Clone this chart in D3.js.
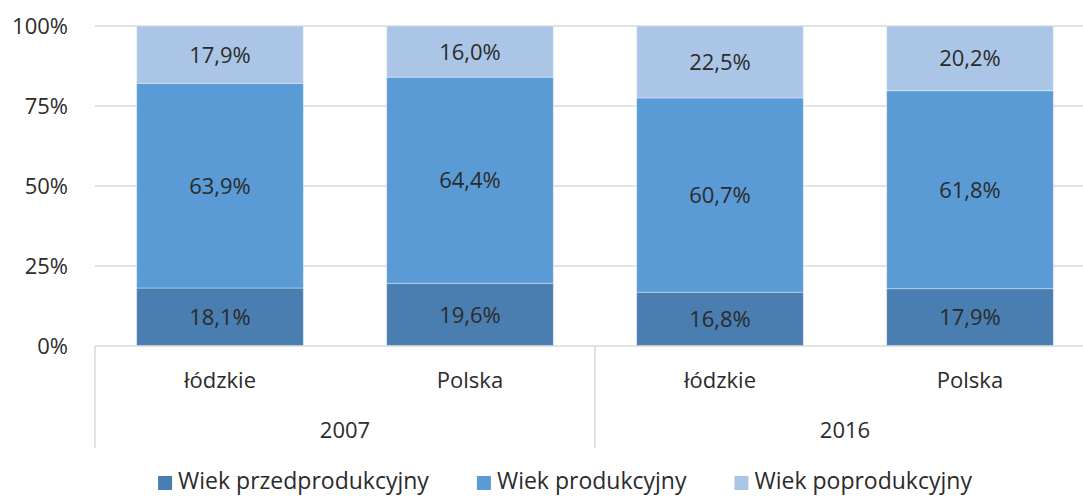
<!DOCTYPE html>
<html lang="pl">
<head>
<meta charset="utf-8">
<script src="https://d3js.org/d3.v7.min.js"></script>
<style>
  body { margin: 0; background: #fff; }
  text { font-family: "Open Sans", sans-serif; fill: #2b2b2b; }
</style>
</head>
<body>
<script>
  // data
  const regions = ["łódzkie", "Polska", "łódzkie", "Polska"];
  const years = ["2007", "2016"];
  const regionYear = ["2007", "2007", "2016", "2016"];
  const series = ["Wiek przedprodukcyjny", "Wiek produkcyjny", "Wiek poprodukcyjny"];
  const przed = [18.1, 19.6, 16.8, 17.9];
  const prod = [63.9, 64.4, 60.7, 61.8];
  const popro = [17.9, 16.0, 22.5, 20.2];
  const yTicks = [0, 0.25, 0.5, 0.75, 1];
  const colors = ["#4a7db0", "#5b9bd5", "#abc5e6"];

  const width = 1083, height = 497;
  const plotLeft = 95, plotRight = 1095, plotTop = 26, plotBottom = 346;

  const rows = regions.map(function(r, i) {
    return { id: i, region: r, year: regionYear[i], a: przed[i], b: prod[i], c: popro[i] };
  });

  const svg = d3.select("body").append("svg")
    .attr("width", width)
    .attr("height", height);

  const x = d3.scaleBand()
    .domain(d3.range(regions.length))
    .range([plotLeft, plotRight])
    .paddingInner(1 / 3)
    .paddingOuter(1 / 6);

  const xYear = d3.scaleBand()
    .domain(years)
    .range([plotLeft, plotRight]);

  const y = d3.scaleLinear().domain([0, 1]).range([plotBottom, plotTop]);

  // gridlines
  svg.append("g").selectAll("line")
    .data(yTicks.slice(1))
    .enter().append("line")
    .attr("x1", plotLeft).attr("x2", plotRight)
    .attr("y1", d => y(d)).attr("y2", d => y(d))
    .attr("stroke", "#d9d9d9")
    .attr("stroke-width", 1.5);

  // y labels
  svg.append("g").selectAll("text")
    .data(yTicks)
    .enter().append("text")
    .attr("x", 68)
    .attr("y", d => y(d) + 8)
    .attr("text-anchor", "end")
    .attr("font-size", "22px")
    .text(d => d3.format(".0%")(d));

  const stack = d3.stack().keys(["a", "b", "c"]).offset(d3.stackOffsetExpand);
  const stacked = stack(rows);

  const layers = svg.append("g").selectAll("g")
    .data(stacked)
    .enter().append("g")
    .attr("fill", (d, i) => colors[i]);

  layers.selectAll("rect")
    .data(d => d)
    .enter().append("rect")
    .attr("x", d => x(d.data.id))
    .attr("width", x.bandwidth())
    .attr("y", d => y(d[1]))
    .attr("height", d => y(d[0]) - y(d[1]))
    .attr("stroke", "#ffffff")
    .attr("stroke-opacity", 0.35)
    .attr("stroke-width", 1);

  // value labels
  const fmt = v => v.toFixed(1).replace(".", ",") + "%";
  stacked.forEach(function(layer) {
    svg.append("g").selectAll("text")
      .data(layer)
      .enter().append("text")
      .attr("x", d => x(d.data.id) + x.bandwidth() / 2)
      .attr("y", d => (y(d[0]) + y(d[1])) / 2 + 8)
      .attr("text-anchor", "middle")
      .attr("font-size", "22px")
      .text(d => fmt(d.data[layer.key]));
  });

  // x axis line + dividers
  svg.append("line")
    .attr("x1", plotLeft).attr("x2", plotRight)
    .attr("y1", plotBottom).attr("y2", plotBottom)
    .attr("stroke", "#d9d9d9").attr("stroke-width", 1.5);

  const dividers = years.map(d => xYear(d)).concat([plotRight]);
  svg.append("g").selectAll("line")
    .data(dividers)
    .enter().append("line")
    .attr("x1", d => d).attr("x2", d => d)
    .attr("y1", plotBottom).attr("y2", 448)
    .attr("stroke", "#d9d9d9").attr("stroke-width", 1.5);

  svg.append("g").selectAll("text")
    .data(rows)
    .enter().append("text")
    .attr("x", d => x(d.id) + x.bandwidth() / 2)
    .attr("y", 388)
    .attr("text-anchor", "middle")
    .attr("font-size", "22px")
    .text(d => d.region);

  svg.append("g").selectAll("text")
    .data(years)
    .enter().append("text")
    .attr("x", d => xYear(d) + xYear.bandwidth() / 2)
    .attr("y", 438)
    .attr("text-anchor", "middle")
    .attr("font-size", "22px")
    .text(d => d);

  // legend
  const legend = svg.append("g");
  const items = legend.selectAll("g")
    .data(series)
    .enter().append("g");
  items.append("rect")
    .attr("width", 14).attr("height", 14)
    .attr("y", 476)
    .attr("fill", (d, i) => colors[i]);
  items.append("text")
    .attr("x", 20)
    .attr("y", 489)
    .attr("font-size", "23px")
    .text(d => d);

  let widths = [];
  items.select("text").each(function() { widths.push(20 + this.getComputedTextLength()); });
  const gap = 48;
  const total = d3.sum(widths) + gap * (widths.length - 1);
  let pos = 565 - total / 2;
  items.attr("transform", function(d, i) {
    const t = "translate(" + pos + ",0)";
    pos += widths[i] + gap;
    return t;
  });
</script>
</body>
</html>
